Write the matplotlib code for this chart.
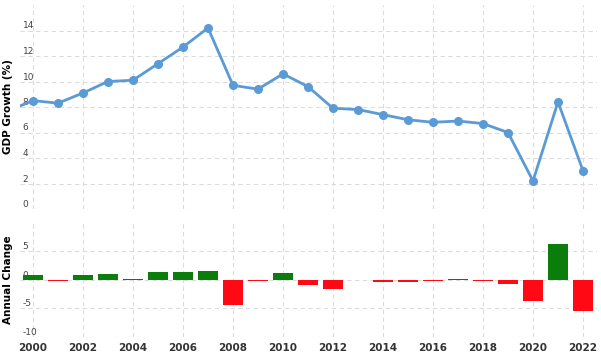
import matplotlib.pyplot as plt

plt.rcParams['axes.unicode_minus'] = False

# GDP growth (%) by year, 1999 only feeds the clipped segment at the left edge
years = list(range(1999, 2023))
gdp_growth = [7.7, 8.5, 8.3, 9.1, 10.0, 10.1, 11.4, 12.7, 14.2, 9.7, 9.4, 10.6,
              9.6, 7.9, 7.8, 7.4, 7.0, 6.8, 6.9, 6.7, 6.0, 2.2, 8.4, 3.0]

change_years = list(range(2000, 2023))
annual_change = [0.8, -0.2, 0.8, 0.9, 0.1, 1.3, 1.3, 1.5, -4.5, -0.3, 1.2, -1.0,
                 -1.7, -0.1, -0.4, -0.4, -0.2, 0.1, -0.2, -0.7, -3.8, 6.2, -5.4]

year_ticks = list(range(2000, 2023, 2))

line_color = '#5b9bd5'
grid_color = '#dcdcdc'

fig = plt.figure(figsize=(6.01, 3.54), dpi=100)
ax1 = fig.add_axes([20 / 601, 1 - 209 / 354, 577 / 601, 204 / 354])
ax2 = fig.add_axes([20 / 601, 1 - 337 / 354, 577 / 601, 115 / 354])

xlim = (1999.48, 2022.56)

# top panel: growth line
ax1.plot(years, gdp_growth, color=line_color, linewidth=2, marker='o',
         markersize=5.5, zorder=3)
ax1.set_xlim(*xlim)
ax1.set_ylim(0, 16)
ax1.set_yticks(range(0, 16, 2))
ax1.set_xticks(year_ticks)
ax1.tick_params(axis='x', labelbottom=False, length=0)
ax1.set_ylabel('GDP Growth (%)', fontsize=7.5, fontweight='bold')

# bottom panel: annual change bars
bar_colors = ['#0a7d0a' if v >= 0 else '#ff0a14' for v in annual_change]
ax2.bar(change_years, annual_change, width=0.8, color=bar_colors,
        linewidth=0, zorder=3)
ax2.set_xlim(*xlim)
ax2.set_ylim(-10, 10)
ax2.set_yticks([-10, -5, 0, 5])
ax2.set_xticks(year_ticks)
ax2.set_xticklabels([str(y) for y in year_ticks], fontsize=7.5,
                    fontweight='bold', color='#333333')
ax2.tick_params(axis='x', length=0, pad=4)
ax2.set_ylabel('Annual Change', fontsize=7.5, fontweight='bold')

for ax in (ax1, ax2):
    for s in ax.spines.values():
        s.set_visible(False)
    ax.grid(True, color=grid_color, linestyle=(0, (4, 3)), linewidth=0.8)
    ax.set_axisbelow(True)
    ax.tick_params(axis='y', length=0, pad=-2, labelsize=6.5,
                   labelcolor='#444444')
    for lbl in ax.get_yticklabels():
        lbl.set_horizontalalignment('left')
        lbl.set_verticalalignment('bottom')
    ax.yaxis.set_label_coords(-0.012, 0.5)

fig.savefig('out.png', dpi=100)
